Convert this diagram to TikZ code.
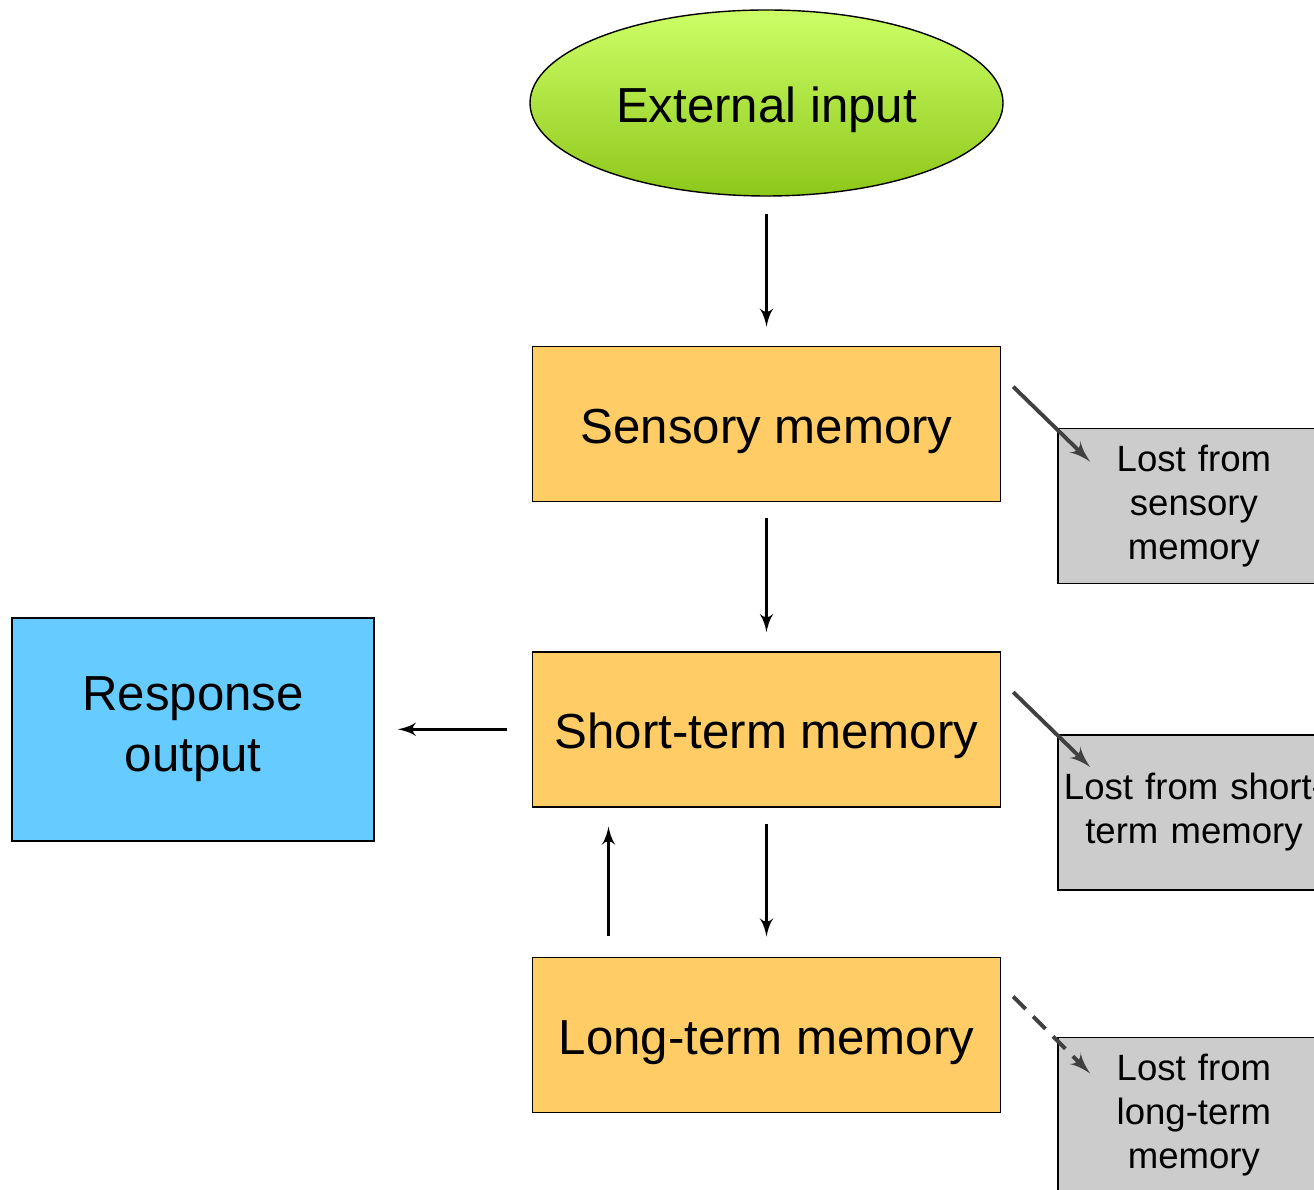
\documentclass[tikz,border=0pt]{standalone}
\usepackage{fontspec}
\setmainfont{Liberation Sans}
\usetikzlibrary{shapes,arrows,positioning,calc}

\definecolor{inputtop}{HTML}{CCFF66}
\definecolor{inputbottom}{HTML}{8EC71B}
\definecolor{memfill}{HTML}{FFCC66}
\definecolor{respfill}{HTML}{66CCFF}
\definecolor{lostfill}{HTML}{CCCCCC}
\definecolor{lossdraw}{HTML}{404040}

\begin{document}
\begin{tikzpicture}[
    node distance=1.49cm,
    auto,
    block/.style={
        rectangle,
        draw,
        fill=memfill,
        minimum width=4.68cm,
        minimum height=1.55cm,
        text height=14pt,
        text depth=3pt,
        font=\fontsize{14}{17}\selectfont
    },
    lostbox/.style={
        rectangle,
        draw,
        fill=lostfill,
        minimum width=2.72cm,
        minimum height=1.55cm,
        text width=2.65cm,
        align=center,
        inner sep=0pt,
        font=\fontsize{10.4}{12.5}\selectfont
    },
    line/.style={
        draw,
        -latex',
        thick
    },
    lossline/.style={
        draw=lossdraw,
        -latex',
        line width=1.1pt
    }
]
    \useasboundingbox (0,0) rectangle (13.14,11.89);

    % Nodes
    \node [ellipse, draw, top color=inputtop, bottom color=inputbottom,
           minimum width=4.73cm, minimum height=1.86cm, inner sep=0pt,
           text height=14pt, text depth=3pt,
           font=\fontsize{14}{17}\selectfont] (ext) at (7.665,10.86) {External input};
    \node [block, below=of ext] (sensory) {Sensory memory};
    \node [block, below=of sensory] (short) {Short-term memory};
    \node [block, below=of short] (long) {Long-term memory};

    % Response
    \node [block, fill=respfill, minimum width=3.62cm, minimum height=2.23cm,
           text height=, text depth=, align=center,
           font=\fontsize{14}{17.4}\selectfont,
           left=1.57cm of short] (response) {Response\\output};

    % Losses
    \node [lostbox, below right=0.82cm and 0.56cm of sensory.north east] (lostS) {Lost from\\sensory\\memory};
    \node [lostbox, below right=0.83cm and 0.56cm of short.north east] (lostST) {Lost from short-\\term memory};
    \node [lostbox, below right=0.80cm and 0.56cm of long.north east] (lostLT) {Lost from\\long-term\\memory};

    % Edges
    \path [line, shorten <=0.17cm, shorten >=0.19cm] (ext.south) -- (sensory.north);
    \path [line, shorten <=0.16cm, shorten >=0.19cm] (sensory.south) -- (short.north);
    \path [line, shorten <=0.16cm, shorten >=0.20cm] (short.south) -- (long.north);
    \path [line, shorten <=0.21cm, shorten >=0.19cm] ([xshift=-1.58cm]long.north) -- ([xshift=-1.58cm]short.south);
    \path [line, shorten <=0.25cm, shorten >=0.23cm] (short.west) -- (response.east);

    % Loss arrows
    \path [lossline] ($(sensory.north east)+(0.12,-0.41)$) -- ($(lostS.north west)+(0.33,-0.34)$);
    \path [lossline] ($(short.north east)+(0.12,-0.41)$) -- ($(lostST.north west)+(0.33,-0.33)$);
    \path [lossline, dashed, dash pattern=on 5pt off 3pt] ($(long.north east)+(0.12,-0.40)$) -- ($(lostLT.north west)+(0.33,-0.37)$);

\end{tikzpicture}
\end{document}
